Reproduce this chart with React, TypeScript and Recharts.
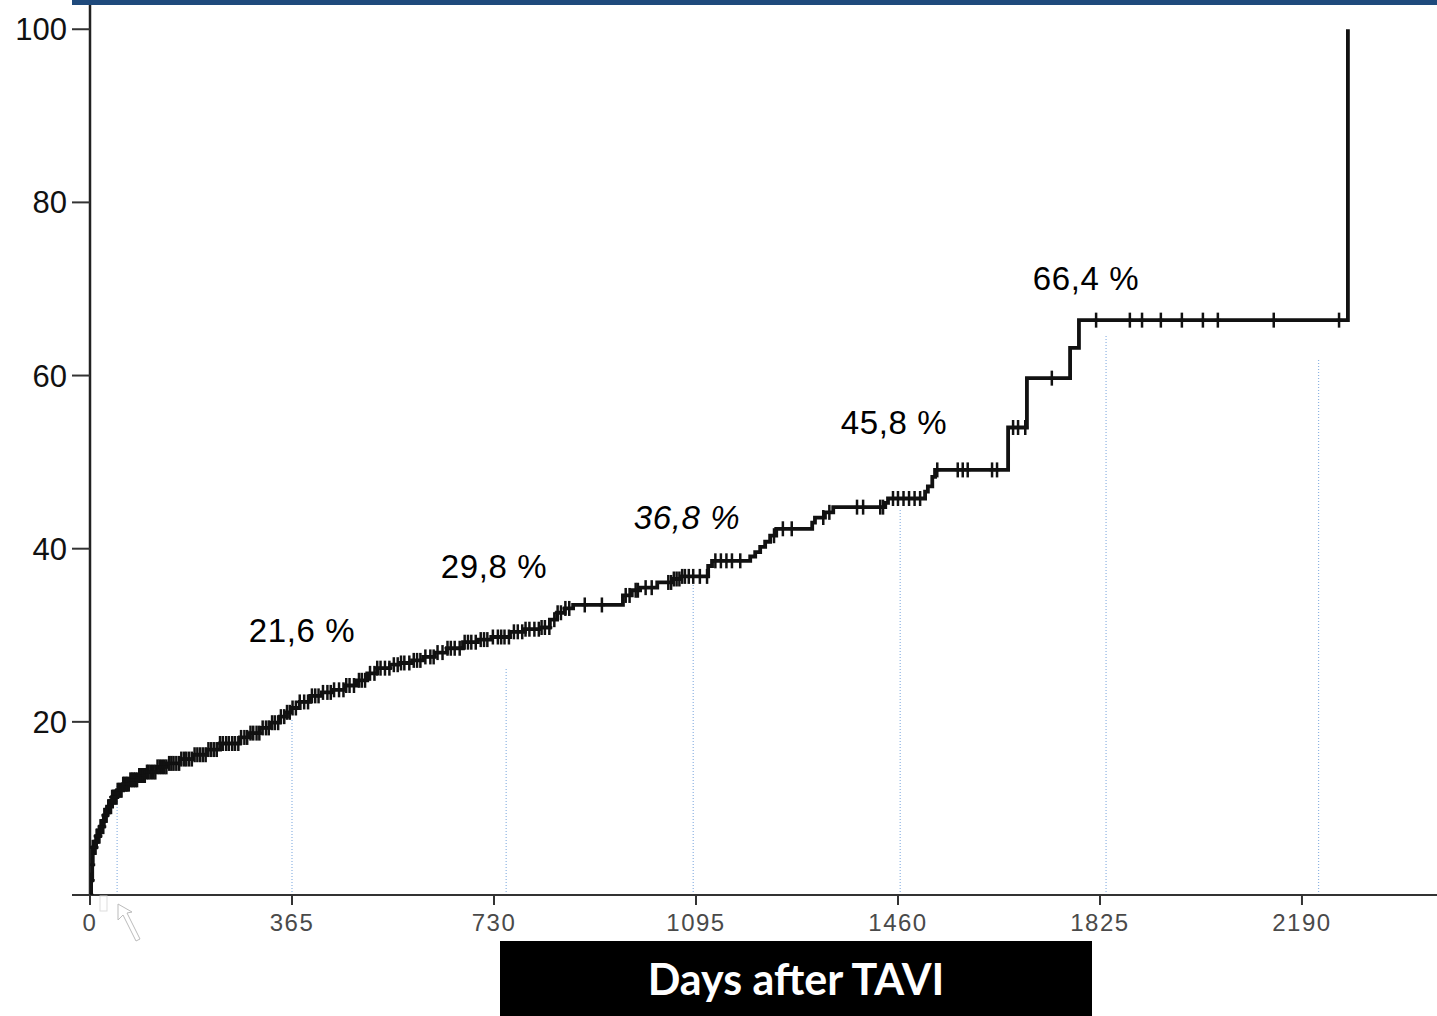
import React from "react";
import { ComposedChart, Line, Scatter, XAxis, YAxis, ReferenceLine } from "recharts";

// cumulative incidence (%) – step points of the KM-type curve
const stepDays = [
  0, 2, 4, 5, 11, 18, 25, 31, 40, 49, 60, 72, 87, 103, 121, 139, 163, 186, 211, 235,
  271, 289, 307, 325, 343, 356, 363, 379, 398, 419, 439, 461, 482, 501, 519, 542, 560,
  582, 602, 623, 645, 674, 701, 725, 759, 786, 813, 831, 844, 858, 873, 963, 979, 994,
  1025, 1053, 1068, 1117, 1124, 1193, 1202, 1211, 1220, 1229, 1240, 1305, 1310, 1328,
  1343, 1437, 1442, 1509, 1514, 1522, 1527, 1659, 1693, 1771, 1787, 2273,
];
const stepValues = [
  0, 1.7, 3.5, 5.5, 6.8, 7.9, 9.2, 10.2, 11.3, 12.1, 12.8, 13.3, 13.8, 14.2, 14.8, 15.2, 15.7, 16.2, 16.8, 17.5,
  18.2, 18.7, 19.3, 19.9, 20.6, 21.1, 21.6, 22.3, 23.0, 23.4, 23.7, 24.2, 24.8, 25.6, 26.2, 26.6, 26.8,
  27.1, 27.5, 28.0, 28.5, 29.2, 29.5, 29.8, 30.4, 30.7, 30.9, 31.8, 32.6, 33.1, 33.5, 34.6, 35.2, 35.5,
  36.1, 36.5, 36.8, 38.0, 38.6, 39.1, 39.6, 40.2, 40.8, 41.5, 42.3, 43.0, 43.6, 44.2,
  44.8, 45.3, 45.8, 46.6, 47.2, 48.3, 49.1, 54.0, 59.7, 63.2, 66.4, 100,
];

// censored observations (days)
const censorDays = [
  1, 2, 3, 4, 5, 6, 7, 8, 9, 10, 12, 13, 14, 16, 17, 19, 21, 22, 24, 26, 27, 29, 30, 33, 35,
  36, 38, 40, 42, 44, 46, 48, 50, 52, 55, 57, 60, 62, 65, 67, 70, 73, 76, 79, 82, 85, 89, 92,
  96, 99, 103, 106, 110, 114, 118, 122, 126, 130, 134, 138, 143, 147, 151, 156, 161, 165,
  170, 174, 179, 184, 189, 194, 199, 204, 209, 214, 219, 224, 229, 235, 240, 246, 251, 257,
  262, 268, 273, 279, 284, 290, 295, 301, 306, 312, 318, 323, 329, 334, 340, 345, 351, 356,
  361, 366, 372, 379, 387, 394, 401, 407, 413, 421, 429, 435, 441, 450, 458, 463, 469, 477,
  486, 491, 497, 506, 514, 519, 525, 533, 541, 549, 556, 562, 568, 577, 585, 591, 597, 606,
  615, 621, 628, 637, 646, 652, 659, 668, 677, 683, 689, 697, 706, 712, 718, 728, 737, 743,
  749, 757, 766, 773, 781, 787, 794, 803, 811, 816, 822, 830, 839, 845, 851, 859, 866, 894,
  925, 968, 975, 986, 990, 1004, 1015, 1045, 1050, 1055, 1060, 1065, 1070, 1075, 1082, 1090,
  1102, 1115, 1130, 1140, 1150, 1160, 1175, 1236, 1252, 1268, 1325, 1336, 1386, 1397, 1428,
  1433, 1451, 1460, 1470, 1480, 1490, 1500, 1531, 1568, 1577, 1586, 1630, 1639, 1668, 1677,
  1690, 1738, 1818, 1879, 1901, 1935, 1973, 2011, 2038, 2139, 2257,
];

// yearly estimates
const milestoneDays = [365, 730, 1095, 1460, 1825];
const milestoneValues = [21.6, 29.8, 36.8, 45.8, 66.4];

// dotted guide lines: day and height
const guideDays = [49, 365, 752, 1090, 1464, 1836, 2220];
const guideTops = [12.7, 20.2, 26.2, 36.5, 44.5, 64.6, 62.0];

const xTicks = [0, 365, 730, 1095, 1460, 1825, 2190];
const yTicks = [0, 20, 40, 60, 80, 100];

const curve = stepDays.map((day, i) => ({ day, value: stepValues[i] }));

function valueAt(day: number) {
  let v = 0;
  for (const p of curve) {
    if (p.day <= day) v = p.value;
    else break;
  }
  return v;
}

const censored = censorDays.map((day) => ({ day, value: valueAt(day) }));

const milestones = milestoneDays.map((day, i) => ({
  day,
  value: milestoneValues[i],
  text: milestoneValues[i].toFixed(1).replace(".", ",") + " %",
  italic: i === 2,
}));

// label placement relative to the curve point (px)
const labelOffsets = [
  [10, -66],
  [0, -59],
  [-9, -47],
  [-4, -64],
  [-14, -30],
];

const FONT = '"Liberation Sans", Arial, sans-serif';

// "+" censor mark
const CensorMark = (props: any) => {
  const { cx, cy } = props;
  if (cx == null || cy == null) return null;
  return (
    <g stroke="#111" strokeWidth={2.5}>
      <line x1={cx} x2={cx} y1={cy - 7.5} y2={cy + 7.5} />
      <line x1={cx - 3} x2={cx + 3} y1={cy} y2={cy} />
    </g>
  );
};

const MilestoneLabel = (props: any) => {
  const { cx, cy, index, payload } = props;
  if (cx == null || cy == null) return null;
  const [dx, dy] = labelOffsets[index] || [0, 0];
  return (
    <text
      x={cx + dx}
      y={cy + dy}
      textAnchor="middle"
      fontFamily={FONT}
      fontSize={33}
      letterSpacing={0.6}
      fontStyle={payload.italic ? "italic" : "normal"}
      fill="#000"
    >
      {payload.text}
    </text>
  );
};

const XTick = (props: any) => {
  const { x, y, payload } = props;
  return (
    <text
      x={x}
      y={y}
      dy={24}
      textAnchor="middle"
      fontFamily={FONT}
      fontSize={24}
      letterSpacing={1.5}
      fill="#4a4a4a"
    >
      {payload.value}
    </text>
  );
};

export default function App() {
  return (
    <div
      style={{
        position: "absolute",
        left: 0,
        top: 0,
        width: 1437,
        height: 1016,
        background: "#fff",
        overflow: "hidden",
      }}
    >
      <div style={{ position: "absolute", left: 72, top: 0, width: 1365, height: 5, background: "#1f4a7c" }} />

      <ComposedChart
        width={1437}
        height={1016}
        margin={{ top: 5, right: 0, left: 0, bottom: 81 }}
      >
        <XAxis
          type="number"
          dataKey="day"
          domain={[0, 2434]}
          ticks={xTicks}
          allowDataOverflow
          tickSize={10}
          tick={<XTick />}
          axisLine={{ stroke: "#333", strokeWidth: 2 }}
          tickLine={{ stroke: "#333", strokeWidth: 2 }}
          height={40}
        />
        <YAxis
          type="number"
          dataKey="value"
          domain={[0, 102.8]}
          ticks={yTicks}
          allowDataOverflow
          width={90}
          tickSize={18}
          tickMargin={5}
          tickFormatter={(v: number) => (v === 0 ? "" : String(v))}
          tick={{ fontSize: 31, fill: "#111", fontFamily: FONT }}
          axisLine={{ stroke: "#222", strokeWidth: 2.5 }}
          tickLine={{ stroke: "#333", strokeWidth: 2 }}
        />

        {guideDays.map((d, i) => (
          <ReferenceLine
            key={d}
            segment={[
              { x: d, y: 0 },
              { x: d, y: guideTops[i] },
            ]}
            stroke="#8db3e2"
            strokeWidth={1.2}
            strokeDasharray="1 2"
          />
        ))}

        <Line
          data={curve}
          dataKey="value"
          type="stepAfter"
          stroke="#111"
          strokeWidth={3.8}
          dot={false}
          activeDot={false}
          isAnimationActive={false}
        />
        <Scatter data={censored} dataKey="value" shape={<CensorMark />} isAnimationActive={false} />
        <Scatter data={milestones} dataKey="value" shape={<MilestoneLabel />} isAnimationActive={false} />
      </ComposedChart>

      {/* pointer left on the axis */}
      <svg style={{ position: "absolute", left: 0, top: 0 }} width={200} height={1016}>
        <rect x={100} y={896} width={7} height={15} fill="#fff" stroke="#ddd" strokeWidth={1} />
        <polygon
          points="118,904 118,920 123,915 136,941 140,939 127,913 132,912"
          fill="#fff"
          stroke="#bbb"
          strokeWidth={1}
        />
      </svg>

      <div
        style={{
          position: "absolute",
          left: 500,
          top: 941,
          width: 592,
          height: 75,
          background: "#000",
          color: "#fff",
          fontFamily: "Lato, 'Open Sans', sans-serif",
          fontWeight: 700,
          fontSize: 43,
          display: "flex",
          alignItems: "center",
          justifyContent: "center",
        }}
      >
        Days after TAVI
      </div>
    </div>
  );
}
